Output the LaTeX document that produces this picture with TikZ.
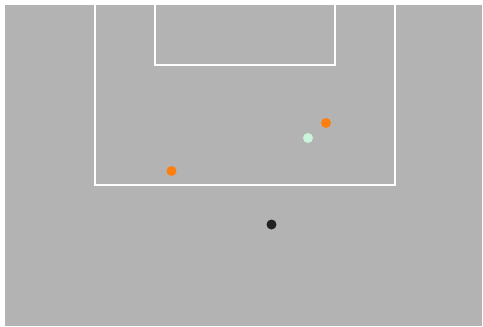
\documentclass[tikz,border=0pt]{standalone}
\begin{document}
\begin{tikzpicture}[x=1pt,y=-1pt,
  pitchline/.style={draw=white,line width=2pt},
  dot/.style={circle,inner sep=0pt,minimum size=10pt}]
\definecolor{pitch}{RGB}{179,179,179}
\definecolor{tabor}{RGB}{255,127,14}
\definecolor{mint}{RGB}{200,245,220}
\definecolor{ballc}{RGB}{34,34,34}
\useasboundingbox (0,0) rectangle (483,327);
\fill[white] (0,0) rectangle (483,327);
\fill[pitch] (5,5) rectangle (482,326);
\coordinate (bl1) at (95,5);
\coordinate (bl2) at (95,185);
\coordinate (bl3) at (395,185);
\coordinate (bl4) at (395,5);
\draw[pitchline] (bl1) -- (bl2) -- (bl3) -- (bl4);
\coordinate (sl1) at (155,5);
\coordinate (sl2) at (155,65);
\coordinate (sl3) at (335,65);
\coordinate (sl4) at (335,5);
\draw[pitchline] (sl1) -- (sl2) -- (sl3) -- (sl4);
\node[dot,fill=tabor] (p1) at (171.5,171) {};
\node[dot,fill=tabor] (p2) at (326,123) {};
\node[dot,fill=mint] (p3) at (308,138) {};
\node[dot,fill=ballc] (ball) at (271.5,224.5) {};
\end{tikzpicture}
\end{document}
